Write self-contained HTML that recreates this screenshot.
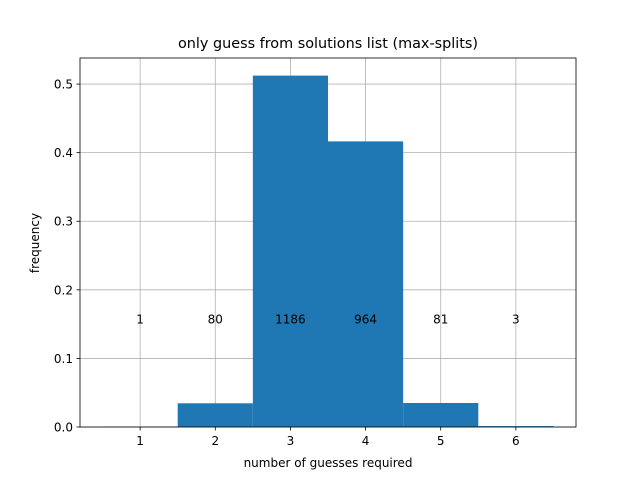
<!DOCTYPE html>
<html><head><meta charset="utf-8"><style>
body{margin:0;background:#fff}
svg text{font-family:"DejaVu Sans","Liberation Sans",sans-serif;fill:#000}
</style></head><body>
<svg id="chart" width="640" height="480" xmlns="http://www.w3.org/2000/svg">
<rect width="640" height="480" fill="#fff"/>
<g id="grid"></g><g id="bars"></g><g id="labels"></g><g id="axes"></g>
<text x="328" y="48" font-size="14.4" text-anchor="middle">only guess from solutions list (max-splits)</text>
<text x="328" y="467" font-size="12" text-anchor="middle">number of guesses required</text>
<text transform="translate(39,243) rotate(-90)" font-size="12" text-anchor="middle">frequency</text>
</svg>
<script>
const categories=[1,2,3,4,5,6];
const counts=[1,80,1186,964,81,3];
const xTicks=[1,2,3,4,5,6];
const yTicks=[0.0,0.1,0.2,0.3,0.4,0.5];
const L=80,R=576,T=58,B=427,xmin=0.2,xmax=6.8,ymin=0,ymax=0.538;
const sx=v=>L+(v-xmin)/(xmax-xmin)*(R-L);
const sy=v=>B-(v-ymin)/(ymax-ymin)*(B-T);
const NS="http://www.w3.org/2000/svg";
function mk(tag,attrs,parent){const e=document.createElementNS(NS,tag);for(const k in attrs)e.setAttribute(k,attrs[k]);parent.appendChild(e);return e;}
const grid=document.getElementById('grid'),bars=document.getElementById('bars'),labels=document.getElementById('labels'),axes=document.getElementById('axes');
const total=counts.reduce((a,b)=>a+b,0);
xTicks.forEach(t=>{
  const g=mk('line',{x1:sx(t),x2:sx(t),y1:T,y2:B,stroke:'#b0b0b0','stroke-width':0.8},grid);
  
  
  const tk=mk('line',{x1:sx(t),x2:sx(t),y1:B,y2:B+3.5,stroke:'#000','stroke-width':0.8},axes);
  
  
  const tx=mk('text',{x:sx(t),y:B+18,'font-size':12,'text-anchor':'middle'},axes);
  tx.textContent=t;
  
  
});
yTicks.forEach(t=>{
  const g=mk('line',{x1:L,x2:R,y1:sy(t),y2:sy(t),stroke:'#b0b0b0','stroke-width':0.8},grid);
  
  
  const tk=mk('line',{x1:L-3.5,x2:L,y1:sy(t),y2:sy(t),stroke:'#000','stroke-width':0.8},axes);
  
  
  const tx=mk('text',{x:L-7,y:sy(t)+4.5,'font-size':12,'text-anchor':'end'},axes);
  tx.textContent=t.toFixed(1);
  
  
});
categories.forEach((c,i)=>{
  const f=counts[i]/total;
  const b=mk('rect',{x:sx(c-0.5),y:sy(f),width:sx(c+0.5)-sx(c-0.5),height:sy(0)-sy(f),fill:'#1f77b4'},bars);
  
  
  const t=mk('text',{x:sx(c),y:sy(0.15)-0.5,'font-size':12,'text-anchor':'middle'},labels);
  t.textContent=counts[i];
  
  
});
const frame=mk('rect',{x:L,y:T,width:R-L,height:B-T,fill:'none',stroke:'#000','stroke-width':0.8},axes);


</script>
</body></html>
